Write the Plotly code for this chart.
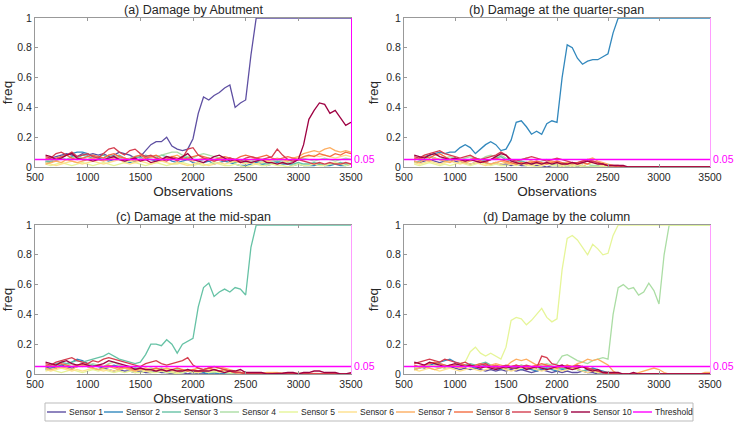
import plotly.graph_objects as go

# ---------------- data (values in percent of freq) ----------------
OBS = list(range(600, 3501, 50))
SENSORS = ["Sensor 1", "Sensor 2", "Sensor 3", "Sensor 4", "Sensor 5",
           "Sensor 6", "Sensor 7", "Sensor 8", "Sensor 9", "Sensor 10"]
COLORS = ["#5e4fa2", "#3288bd", "#66c2a5", "#abdda4", "#e6f598",
          "#fee08b", "#fdae61", "#f46d43", "#d53e4f", "#9e0142"]
THRESHOLD = 0.05
TITLES = ["(a) Damage by Abutment", "(b) Damage at the quarter-span",
          "(c) Damage at the mid-span", "(d) Damage by the column"]
X_TICKS = [500, 1000, 1500, 2000, 2500, 3000, 3500]
Y_TICKS = [0, 0.2, 0.4, 0.6, 0.8, 1]

Z9 = [0] * 9
Z10 = [0] * 10
H9 = [100] * 9
H10 = [100] * 10

# panel (a)
a_s1 = [5,6,7,8,9,8,7,9,8,9, 8,9,7,8,10,9,8,6,7,11, 15,17,17,20,14,12,11,12,19,36,
        47,45,48,50,53,55,40,43,45,75] + H10 + H9
a_s2 = [4,3,5,7,8,9,10,10,9,7, 6,5,4,5,6,4,3,4,5,6, 5,4,5,6,4,3,4,5,3,2,
        3,4,2,3,4,3,2,1,1,2, 3,2,1,2,3,2,2,1,2,1, 1,1,2,1,1,2,1,1,2]
a_s3 = [3,4,5,6,5,7,6,8,7,6, 7,8,6,7,8,6,5,7,6,8, 7,6,8,7,6,5,7,6,5,4,
        5,6,4,5,6,4,3,4,5,3, 4,3,2,3,4,3,2,2,3,2, 2,3,2,1,2,2,3,2,2]
a_s4 = [4,5,4,6,5,6,7,6,5,6, 7,6,8,7,6,5,6,7,8,7, 6,7,8,9,10,10,8,7,6,8,
        9,8,7,6,5,6,5,4,3,4, 5,4,3,4,5,4,3,4,5,6, 5,4,5,6,5,4,5,6,5]
a_s5 = [2,1,2,3,2,1,2,3,2,1, 2,3,2,1,2,3,4,3,2,1, 2,3,2,1,2,2,3,2,1,2,
        1,2,3,2,1,1,2,1,0,1, 2,1,1,2,1,1,0,1,2,1, 1,2,1,1,2,3,2,1,2]
a_s6 = [3,2,1,2,3,4,3,2,3,4, 3,2,3,4,5,3,2,3,4,3, 2,3,4,3,2,3,2,1,2,3,
        2,1,2,3,2,3,4,3,2,3, 2,3,4,3,2,3,4,5,6,7, 7,8,7,8,7,6,7,8,7]
a_s7 = [2,3,4,3,5,4,3,4,5,6, 5,4,5,6,7,6,5,4,5,6, 7,6,5,6,7,8,6,5,4,5,
        6,5,4,5,6,5,4,3,4,5, 6,5,4,5,6,5,4,6,7,9, 10,11,10,12,13,11,10,11,10]
a_s8 = [6,5,6,7,8,6,5,6,7,8, 7,6,8,9,7,6,5,7,8,6, 7,8,6,5,7,6,5,6,7,8,
        7,6,5,6,7,6,5,7,8,7, 6,7,8,6,5,6,7,6,5,7, 8,7,9,8,7,9,8,10,9]
a_s9 = [7,6,9,10,8,10,7,8,9,7, 6,9,12,13,10,8,11,12,9,7, 8,6,5,4,6,4,6,12,13,8,
        6,5,4,5,4,6,5,4,6,7, 6,5,6,7,12,8,5,4,5,4, 3,2,3,2,3,2,2,3,2]
a_s10 = [8,7,5,6,8,9,6,5,5,4, 5,5,6,7,5,4,5,6,4,5, 3,4,5,7,6,5,7,9,5,4,
         3,5,7,8,6,4,5,3,4,3, 4,5,3,3,2,3,2,3,5,15, 32,38,43,42,36,38,33,28,30]

# panel (b)
b_s1 = [4,3,4,5,4,3,4,5,4,3, 3,2,3,4,3,2,3,2,2,1, 2,1,1,2,1,1,0,1,1,0,
        1,0,0,1,0,0,0,0,0,0] + Z10 + Z9
b_s2 = [5,6,7,8,9,10,9,10,10,13, 15,13,9,12,15,17,15,11,12,18, 30,31,27,22,24,22,29,31,30,60,
        82,80,73,69,71,72,72,74,76,90] + H10 + H9
b_s3 = [3,4,5,4,6,5,4,5,6,5, 4,5,6,5,4,5,6,7,5,4, 3,4,3,2,3,2,3,2,1,2,
        1,2,1,1,0,1,0,0,0,0] + Z10 + Z9
b_s4 = [5,6,5,7,6,5,6,7,6,5, 6,7,6,5,7,8,7,8,6,5, 4,5,6,4,3,4,5,3,2,3,
        3,2,2,3,2,1,1,0,0,0] + Z10 + Z9
b_s5 = [2,1,2,3,2,1,2,1,2,3, 2,1,2,3,2,1,2,1,1,2, 1,2,1,1,0,1,2,1,1,0,
        1,0,1,0,0,0,0,0,0,0] + Z10 + Z9
b_s6 = [3,2,3,4,3,2,3,4,3,2, 3,2,3,2,1,2,3,2,3,2, 2,3,2,1,2,1,2,3,2,1,
        2,1,2,1,2,3,2,1,1,0] + Z10 + Z9
b_s7 = [4,3,5,4,6,5,4,3,5,4, 3,4,5,4,3,2,3,4,3,2, 3,2,3,4,3,2,3,4,3,2,
        3,2,3,4,5,6,4,3,2,1] + Z10 + Z9
b_s8 = [6,5,7,6,8,9,7,5,6,5, 4,5,6,4,3,5,6,5,4,3, 2,3,2,3,4,3,2,3,4,3,
        2,3,2,3,2,4,3,2,1,1] + Z10 + Z9
b_s9 = [7,6,8,9,10,11,9,8,7,6, 7,8,6,5,6,7,8,10,8,5, 4,5,6,7,6,5,4,5,6,5,
        4,3,3,4,5,4,3,2,1,1, 1,0,0,0,0,0,0,0,0,0] + Z9
b_s10 = [8,7,6,8,9,7,6,5,6,5, 4,5,4,3,4,5,7,9,8,4, 3,2,3,2,3,2,3,2,3,2,
         2,3,2,3,4,3,2,2,1,1, 1,1,0,0,0,0,0.5,0.5,0,0] + Z9

# panel (c)
c_s1 = [4,5,4,6,5,4,5,6,5,4, 3,4,3,2,3,2,2,1,2,1, 1,2,1,1,0,1,1,0,1,0,
        0,1,0,0,0,0,0,0,0,0] + Z10 + Z9
c_s2 = [3,4,5,6,7,8,10,9,7,6, 5,4,5,6,5,4,3,4,3,2, 2,3,2,1,2,1,1,2,1,1,
        1,0,1,0,0,0,0,0,0,0] + Z10 + Z9
c_s3 = [5,6,7,8,7,8,9,8,9,10, 11,12,14,12,10,9,8,7,8,13, 20,20,19,23,20,14,20,22,24,45,
        58,61,52,55,57,55,58,57,53,85] + H10 + H9
c_s4 = [5,6,5,4,6,7,6,5,6,7, 6,5,7,8,6,5,4,5,4,3, 4,3,4,3,2,3,2,3,2,1,
        2,1,1,2,1,0,1,0,0,0] + Z10 + Z9
c_s5 = [2,3,2,1,2,3,2,1,2,3, 2,3,2,1,2,1,2,1,1,2, 1,1,2,1,1,0,1,2,1,1,
        2,1,2,1,2,1,1,0,0,0] + Z10 + Z9
c_s6 = [3,2,3,4,3,2,3,2,3,4, 3,2,3,2,3,4,3,2,3,2, 2,3,2,3,2,1,2,3,2,1,
        2,3,3,4,3,2,1,1,0,0, 0,0,1,1,1,0,0,0,0,0] + Z9
c_s7 = [4,3,4,5,4,3,5,6,5,4, 3,4,5,4,3,4,3,2,3,4, 3,2,3,4,3,2,3,2,3,4,
        3,4,5,5,4,3,2,1,1,0, 0,0.5,0.5,0.5,0.5,0,0,0,0,0] + Z9
c_s8 = [6,5,6,7,6,5,6,7,6,5, 6,5,6,5,4,5,4,3,4,3, 3,4,3,2,3,4,3,2,3,2,
        3,4,3,2,3,2,1,1,0,0, 0.5,0.5,0.5,0.5,0,0,0,0,0,0] + Z9
c_s9 = [7,6,8,9,10,11,9,8,7,9, 8,10,11,10,9,8,7,6,5,7, 8,9,7,6,7,8,9,11,6,4,
        3,4,5,4,3,2,1,1,0,0] + Z10 + Z9
c_s10 = [8,7,6,8,9,7,6,7,6,5, 6,7,9,8,7,6,5,3,4,3, 3,2,3,2,3,2,2,3,2,2,
         2,2,3,2,1,2,2,3,1,1, 1,1,0,0,0,0.5,1,1,0,1, 1,2,2,1,1,1,0,0,1]

# panel (d)
d_s1 = [4,5,4,5,6,5,4,5,4,3, 4,3,4,3,2,3,2,3,2,3, 2,3,2,1,2,3,2,1,2,1,
        2,1,1,2,1,1,0,0,0,0] + Z10 + Z9
d_s2 = [3,4,5,6,7,8,9,10,8,7, 6,5,4,5,6,5,4,3,4,5, 4,3,4,3,2,3,4,3,2,3,
        4,5,3,2,3,4,3,2,1,0] + Z10 + Z9
d_s3 = [4,5,6,5,6,7,6,5,6,5, 6,7,6,7,8,6,5,4,5,4, 5,6,5,4,3,4,5,4,3,4,
        3,4,3,2,3,2,1,1,0,0] + Z10 + Z9
d_s4 = [5,4,5,6,5,4,5,6,5,4, 5,6,5,4,5,6,5,4,3,4, 5,6,5,4,5,6,7,6,7,12,
        13,11,9,8,7,9,10,11,10,40, 58,60,57,58,53,55,61,56,47,80] + H9
d_s5 = [4,5,6,5,6,5,4,5,6,7, 8,15,18,14,12,14,12,10,18,36, 38,37,33,36,40,44,38,35,37,70,
        91,93,90,85,80,87,84,80,81,93] + H10 + H9
d_s6 = [3,2,3,4,3,2,3,4,3,2, 3,4,3,2,3,4,5,4,3,2, 3,4,5,4,3,2,3,4,3,2,
        3,4,3,2,1,2,1,1,0,0] + Z10 + Z9
d_s7 = [3,4,5,4,3,4,5,6,5,4, 5,6,5,4,5,6,7,6,5,8, 10,9,10,8,6,5,6,5,4,5,
        6,5,7,8,10,9,10,8,6,2, 0,0,0,0,1,2,3,4,3,1, 0,0,0,0,0,0,0,1,1]
d_s8 = [6,5,6,7,8,7,6,5,6,7, 6,5,6,7,6,5,6,5,4,5, 6,5,4,5,6,7,6,5,4,5,
        6,5,4,5,4,3,2,1,1,0] + Z10 + Z9
d_s9 = [7,8,9,10,9,8,10,9,8,7, 8,6,5,6,7,5,4,5,6,5, 6,5,6,5,4,12,11,7,6,5,
        4,5,6,5,4,3,2,1,0,0] + Z10 + Z9
d_s10 = [8,7,6,8,7,6,5,6,7,6, 5,6,5,4,5,4,3,4,5,4, 4,5,3,4,5,4,3,4,5,6,
         4,3,4,5,3,2,3,1,1,1, 1,0,0,1,0,0,0,0,0,0] + Z9

PANELS = [
    [a_s1, a_s2, a_s3, a_s4, a_s5, a_s6, a_s7, a_s8, a_s9, a_s10],
    [b_s1, b_s2, b_s3, b_s4, b_s5, b_s6, b_s7, b_s8, b_s9, b_s10],
    [c_s1, c_s2, c_s3, c_s4, c_s5, c_s6, c_s7, c_s8, c_s9, c_s10],
    [d_s1, d_s2, d_s3, d_s4, d_s5, d_s6, d_s7, d_s8, d_s9, d_s10],
]

# ---------------- layout geometry ----------------
W, H = 735, 425
FONT = "Liberation Sans, Arial, Helvetica, sans-serif"
XDOM = [[35 / W, 351 / W], [404 / W, 710 / W], [35 / W, 351 / W], [404 / W, 710 / W]]
YDOM = [[1 - 167 / H, 1 - 18 / H], [1 - 167 / H, 1 - 18 / H],
        [1 - 374 / H, 1 - 225 / H], [1 - 374 / H, 1 - 225 / H]]
RIGHT_COL = ["#ff00ff", "#ff9cff", "#ff9cff", "#ff9cff"]

fig = go.Figure()
layout = dict(width=W, height=H, margin=dict(l=0, r=0, t=0, b=0, autoexpand=False),
              paper_bgcolor="white", plot_bgcolor="white",
              font=dict(family=FONT, size=10, color="#262626"),
              showlegend=False)

for p in range(4):
    xs = "x" if p == 0 else f"x{p+1}"
    ys = "y" if p == 0 else f"y{p+1}"
    rs = f"y{p+5}"
    for s in range(10):
        vals = [v / 100 for v in PANELS[p][s]]
        fig.add_trace(go.Scatter(x=OBS, y=vals, mode="lines", name=SENSORS[s],
                                 line=dict(color=COLORS[s], width=1.3),
                                 xaxis=xs, yaxis=ys, showlegend=(p == 0)))
    fig.add_trace(go.Scatter(x=[500, 3500], y=[THRESHOLD, THRESHOLD], mode="lines",
                             name="Threshold", line=dict(color="#ff00ff", width=1.6),
                             xaxis=xs, yaxis=rs, showlegend=(p == 0)))
    xk = "xaxis" if p == 0 else f"xaxis{p+1}"
    yk = "yaxis" if p == 0 else f"yaxis{p+1}"
    layout[xk] = dict(domain=XDOM[p], anchor=ys, range=[500, 3500], automargin=False,
                      tickvals=X_TICKS, ticks="inside", ticklen=3, tickcolor="#999",
                      showline=True, linecolor="#999", linewidth=1, mirror="ticks",
                      showgrid=False, zeroline=False,
                      tickfont=dict(size=10.5, color="#262626"),
                      title=dict(text="Observations", font=dict(size=13.5, color="#262626"),
                                 standoff=4))
    layout[yk] = dict(domain=YDOM[p], anchor=xs, range=[0, 1], automargin=False,
                      tickvals=Y_TICKS, ticktext=["0", "0.2", "0.4", "0.6", "0.8", "1"],
                      ticks="inside", ticklen=3, tickcolor="#999",
                      showline=True, linecolor="#999", linewidth=1,
                      showgrid=False, zeroline=False,
                      tickfont=dict(size=10.5, color="#262626"),
                      title=dict(text="freq", font=dict(size=13.5, color="#262626"),
                                 standoff=4))
    rk = f"yaxis{p+5}"
    layout[rk] = dict(overlaying=ys, anchor=xs, side="right", range=[0, 1],
                      automargin=False,
                      tickvals=[THRESHOLD], ticktext=["0.05"], ticks="inside",
                      ticklen=3, tickcolor="#ff00ff",
                      showline=True, linecolor=RIGHT_COL[p], linewidth=1,
                      showgrid=False, zeroline=False,
                      tickfont=dict(size=10.5, color="#ff00ff"))

# subplot titles
annotations = []
title_y = [10, 10, 217, 217]
for p in range(4):
    annotations.append(dict(text=TITLES[p], x=(XDOM[p][0] + XDOM[p][1]) / 2,
                            y=1 - title_y[p] / H, xref="paper", yref="paper",
                            xanchor="center", yanchor="middle", showarrow=False,
                            font=dict(size=12.5, color="#262626")))

# hand-drawn legend box (horizontal, bottom)
shapes = [dict(type="rect", xref="paper", yref="paper", x0=45 / W, x1=693 / W,
               y0=1 - 421 / H, y1=1 - 403 / H, line=dict(color="#bbbbbb", width=1),
               fillcolor="white")]
leg_names = SENSORS + ["Threshold"]
leg_cols = COLORS + ["#ff00ff"]
leg_x = [47, 104, 162, 220, 279, 338, 396, 454, 512, 571, 633]
ly = 1 - 412 / H
for name, col, lx in zip(leg_names, leg_cols, leg_x):
    shapes.append(dict(type="line", xref="paper", yref="paper", x0=lx / W, x1=(lx + 19) / W,
                       y0=ly, y1=ly, line=dict(color=col, width=1.4)))
    annotations.append(dict(text=name, x=(lx + 20) / W, y=ly, xref="paper", yref="paper",
                            xanchor="left", yanchor="middle", showarrow=False,
                            font=dict(size=8.5, color="#262626")))

layout["annotations"] = annotations
layout["shapes"] = shapes
fig.update_layout(**layout)
fig.write_html("out.html", config={"displayModeBar": False},
               post_script="document.body.style.margin='0px';document.body.style.overflow='hidden';")
